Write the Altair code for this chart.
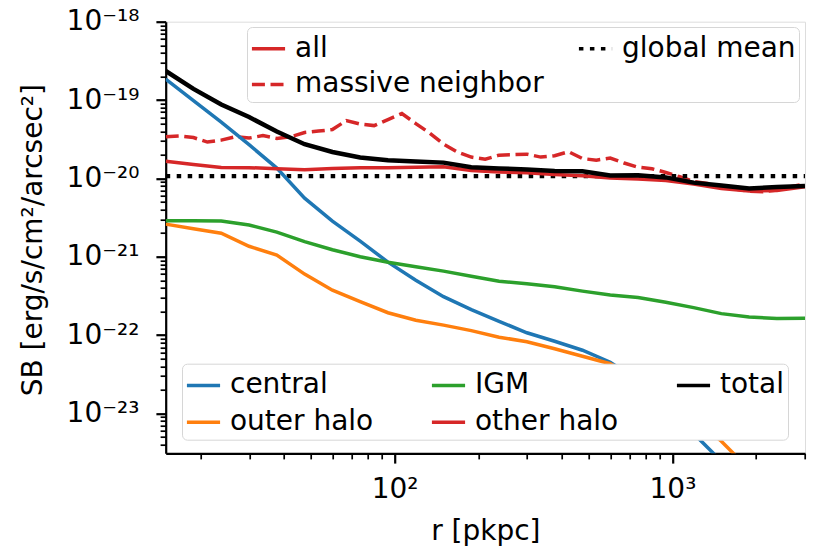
import altair as alt
import pandas as pd
import math

# ---------------- data ----------------
r_coarse = [15.0, 18.88, 23.77, 29.93, 37.67, 47.43, 59.72, 75.18, 94.64, 119.2,
            150.0, 188.8, 237.7, 299.3, 376.7, 474.3, 597.2, 751.8, 946.4, 1192,
            1500, 1888, 2377, 3000]

r_fine = [15.0, 16.83, 18.88, 21.19, 23.77, 26.67, 29.93, 33.58, 37.67, 42.27,
          47.43, 53.22, 59.72, 67.0, 75.18, 84.35, 94.64, 106.2, 119.2, 133.7,
          150.0, 168.3, 188.8, 211.9, 237.7, 266.7, 299.3, 335.8, 376.7, 422.7,
          474.3, 532.2, 597.2, 670.0, 751.8, 843.5, 946.4, 1062, 1192, 1337,
          1500, 1683, 1888, 2119, 2377, 2667, 3000]

sb_central = [1.85e-19, 9.8e-20, 5.22e-20, 2.69e-20, 1.355e-20, 5.6e-21, 2.85e-21,
              1.58e-21, 8.53e-22, 5.02e-22, 3.09e-22, 2.11e-22, 1.50e-22, 1.07e-22,
              8.35e-23, 6.41e-23, 4.51e-23, 2.64e-23, 1.31e-23, 5.56e-24, 2.45e-24]

sb_outer = [2.61e-21, 2.28e-21, 2.00e-21, 1.36e-21, 1.05e-21, 6.0e-22, 3.74e-22,
            2.67e-22, 1.93e-22, 1.55e-22, 1.34e-22, 1.14e-22, 9.4e-23, 8.24e-23,
            6.70e-23, 5.37e-23, 4.31e-23, 2.65e-23, 1.56e-23, 8.69e-24, 4.42e-24,
            1.94e-24]

sb_igm = [2.87e-21, 2.87e-21, 2.86e-21, 2.54e-21, 2.06e-21, 1.56e-21, 1.23e-21,
          1.00e-21, 8.53e-22, 7.47e-22, 6.55e-22, 5.65e-22, 4.88e-22, 4.53e-22,
          4.15e-22, 3.64e-22, 3.24e-22, 3.01e-22, 2.63e-22, 2.24e-22, 1.88e-22,
          1.70e-22, 1.63e-22, 1.64e-22]

sb_other = [1.66e-20, 1.50e-20, 1.38e-20, 1.37e-20, 1.33e-20, 1.29e-20, 1.34e-20,
            1.37e-20, 1.37e-20, 1.39e-20, 1.41e-20, 1.26e-20, 1.21e-20, 1.18e-20,
            1.12e-20, 1.08e-20, 1.01e-20, 9.8e-21, 9.37e-21, 8.46e-21, 7.41e-21,
            6.88e-21, 7.0e-21, 7.8e-21]

sb_total = [2.35e-19, 1.39e-19, 8.77e-20, 6.07e-20, 3.96e-20, 2.73e-20, 2.17e-20,
            1.85e-20, 1.70e-20, 1.64e-20, 1.59e-20, 1.39e-20, 1.34e-20, 1.30e-20,
            1.24e-20, 1.23e-20, 1.09e-20, 1.10e-20, 1.03e-20, 8.83e-21, 8.09e-21,
            7.45e-21, 7.74e-21, 7.98e-21]

sb_massive = [3.40e-20, 3.47e-20, 3.32e-20, 2.91e-20, 3.08e-20, 3.40e-20, 3.27e-20,
              3.52e-20, 3.24e-20, 3.40e-20, 3.85e-20, 4.02e-20, 4.20e-20, 5.47e-20,
              4.94e-20, 4.72e-20, 5.64e-20, 6.72e-20, 5.01e-20, 3.79e-20, 2.74e-20,
              2.17e-20, 1.87e-20, 1.76e-20, 1.98e-20, 2.01e-20, 2.04e-20, 1.87e-20,
              1.95e-20, 2.19e-20, 1.79e-20, 1.71e-20, 1.82e-20, 1.57e-20, 1.39e-20,
              1.33e-20, 1.19e-20, 1.05e-20, 9.10e-21, 8.63e-21, 7.97e-21, 7.30e-21,
              6.88e-21, 6.74e-21, 7.09e-21, 7.86e-21, 8.46e-21]

r_global = [15.0, 3000.0]
sb_global = [1.07e-20, 1.07e-20]

component_names = ["central", "outer halo", "IGM", "other halo", "total"]
component_colors = ["#1f77b4", "#ff7f0e", "#2ca02c", "#d62728", "#000000"]
variant_names = ["all", "massive neighbor", "global mean"]
variant_colors = ["#d62728", "#d62728", "#000000"]

x_domain = [15, 3000]
y_domain = [3.1e-24, 1e-18]
x_tick_values = [100, 1000]
x_tick_labels = ["10²", "10³"]
y_tick_values = [1e-23, 1e-22, 1e-21, 1e-20, 1e-19, 1e-18]
y_tick_labels = ["10⁻²³", "10⁻²²", "10⁻²¹", "10⁻²⁰", "10⁻¹⁹", "10⁻¹⁸"]

# ---------------- tables ----------------
rows = []
for name, vals in [("central", sb_central), ("outer halo", sb_outer), ("IGM", sb_igm),
                   ("other halo", sb_other), ("total", sb_total)]:
    for r, v in zip(r_coarse, vals):
        rows.append({"r": r, "sb": v, "component": name})
comp_df = pd.DataFrame(rows)

vrows = []
for r, v in zip(r_fine, sb_massive):
    vrows.append({"r": r, "sb": v, "variant": "massive neighbor"})
for r, v in zip(r_global, sb_global):
    vrows.append({"r": r, "sb": v, "variant": "global mean"})
var_df = pd.DataFrame(vrows)

x_minor = [m * 10 ** k for k in (1, 2, 3) for m in range(2, 10)]
x_minor = [v for v in x_minor if x_domain[0] <= v <= x_domain[1]]
y_minor = [m * 10.0 ** k for k in range(-24, -18) for m in range(2, 10)]
y_minor = [v for v in y_minor if y_domain[0] <= v <= y_domain[1]]


def label_expr(values, labels):
    parts = []
    for v, lab in zip(values, labels):
        e = round(math.log10(v))
        parts.append(f"abs(log(datum.value)/LN10 - ({e})) < 0.01 ? '{lab}'")
    return " : ".join(parts) + " : ''"


FONT = "DejaVu Sans"
FS = 28
W, H = 639.3, 431.6

xscale = alt.Scale(type="log", domain=x_domain, nice=False)
yscale = alt.Scale(type="log", domain=y_domain, nice=False)

x_major = alt.Axis(values=x_tick_values, labelExpr=label_expr(x_tick_values, x_tick_labels),
                   orient="bottom", grid=False, tickSize=9.8, tickWidth=2.2, tickColor="black",
                   domainColor="black", domainWidth=2.2, labelFont=FONT, labelFontSize=FS,
                   labelColor="black", labelBaseline="alphabetic", labelPadding=34,
                   labelFlush=False, labelOverlap=False,
                   title="r [pkpc]", titleFont=FONT, titleFontSize=FS, titleFontWeight="normal",
                   titleColor="black", titleX=W / 2, titleY=86.7, titleBaseline="alphabetic",
                   titleAlign="center")
y_major = alt.Axis(values=y_tick_values, labelExpr=label_expr(y_tick_values, y_tick_labels),
                   orient="left", grid=False, tickSize=9.8, tickWidth=2.2, tickColor="black",
                   domainColor="black", domainWidth=2.2, labelFont=FONT, labelFontSize=FS,
                   labelColor="black", labelPadding=17, labelFlush=False, labelOverlap=False,
                   title="SB [erg/s/cm²/arcsec²]", titleFont=FONT, titleFontSize=FS,
                   titleFontWeight="normal", titleColor="black", titleX=-124.7, titleY=218,
                   titleAngle=270, titleBaseline="alphabetic", titleAlign="center")
x_min_ax = alt.Axis(values=x_minor, orient="bottom", labels=False, domain=False, grid=False,
                    tickSize=5.6, tickWidth=1.7, tickColor="black", title=None)
y_min_ax = alt.Axis(values=y_minor, orient="left", labels=False, domain=False, grid=False,
                    tickSize=5.6, tickWidth=1.7, tickColor="black", title=None)

legend_common = dict(title=None, orient="none", symbolSize=1100, symbolStrokeWidth=3.5,
                     labelFont=FONT, labelFontSize=FS, labelColor="black", labelOffset=8,
                     padding=3, strokeColor="#d6d6d6",
                     fillColor="#ffffff", cornerRadius=5, labelLimit=500)

comp_legend = alt.Legend(legendX=16.3, legendY=342.0, columns=3, columnPadding=50,
                         rowPadding=4, **legend_common)
var_legend = alt.Legend(legendX=81.3, legendY=5.3, columns=2, columnPadding=27,
                        rowPadding=3, **legend_common)

comp_color = alt.Color("component:N", scale=alt.Scale(domain=component_names, range=component_colors),
                       legend=comp_legend)

main_layers = []
for name in ["central", "outer halo", "IGM", "other halo", "total"]:
    lw = 4.5 if name == "total" else 3.5
    main_layers.append(
        alt.Chart(comp_df).mark_line(clip=True, strokeCap="butt").encode(
            x=alt.X("r:Q", scale=xscale, axis=x_major),
            y=alt.Y("sb:Q", scale=yscale, axis=y_major),
            color=comp_color,
            strokeWidth=alt.value(lw),
        ).transform_filter(alt.datum.component == name)
    )
main = alt.layer(*main_layers)

var_color = alt.Color("variant:N", scale=alt.Scale(domain=variant_names, range=variant_colors),
                      legend=var_legend)
var_dash = alt.StrokeDash("variant:N",
                          scale=alt.Scale(domain=variant_names, range=[[1, 0], [13, 5.6], [4.5, 6.5]]),
                          legend=var_legend)

var_layers = []
for name, lw in [("massive neighbor", 3.5), ("global mean", 4.2)]:
    var_layers.append(
        alt.Chart(var_df).mark_line(clip=True, strokeCap="butt").encode(
            x=alt.X("r:Q", scale=xscale, axis=x_min_ax),
            y=alt.Y("sb:Q", scale=yscale, axis=y_min_ax),
            color=var_color,
            strokeDash=var_dash,
            strokeWidth=alt.value(lw),
        ).transform_filter(alt.datum.variant == name)
    )
variants = alt.layer(*var_layers)

chart = alt.layer(variants, main).resolve_scale(
    color="independent", strokeDash="independent"
).resolve_axis(
    x="independent", y="independent"
).properties(
    width=W, height=H,
    padding={"left": 157.7, "top": 13.7, "right": 17, "bottom": 100},
    autosize=alt.AutoSizeParams(type="none"),
    background="white",
).configure_view(
    stroke="black", strokeWidth=2.2
).configure_legend(
    strokeWidth=2
).configure(font=FONT)

chart.save("out.html", embed_options={"renderer": "svg", "actions": False})
